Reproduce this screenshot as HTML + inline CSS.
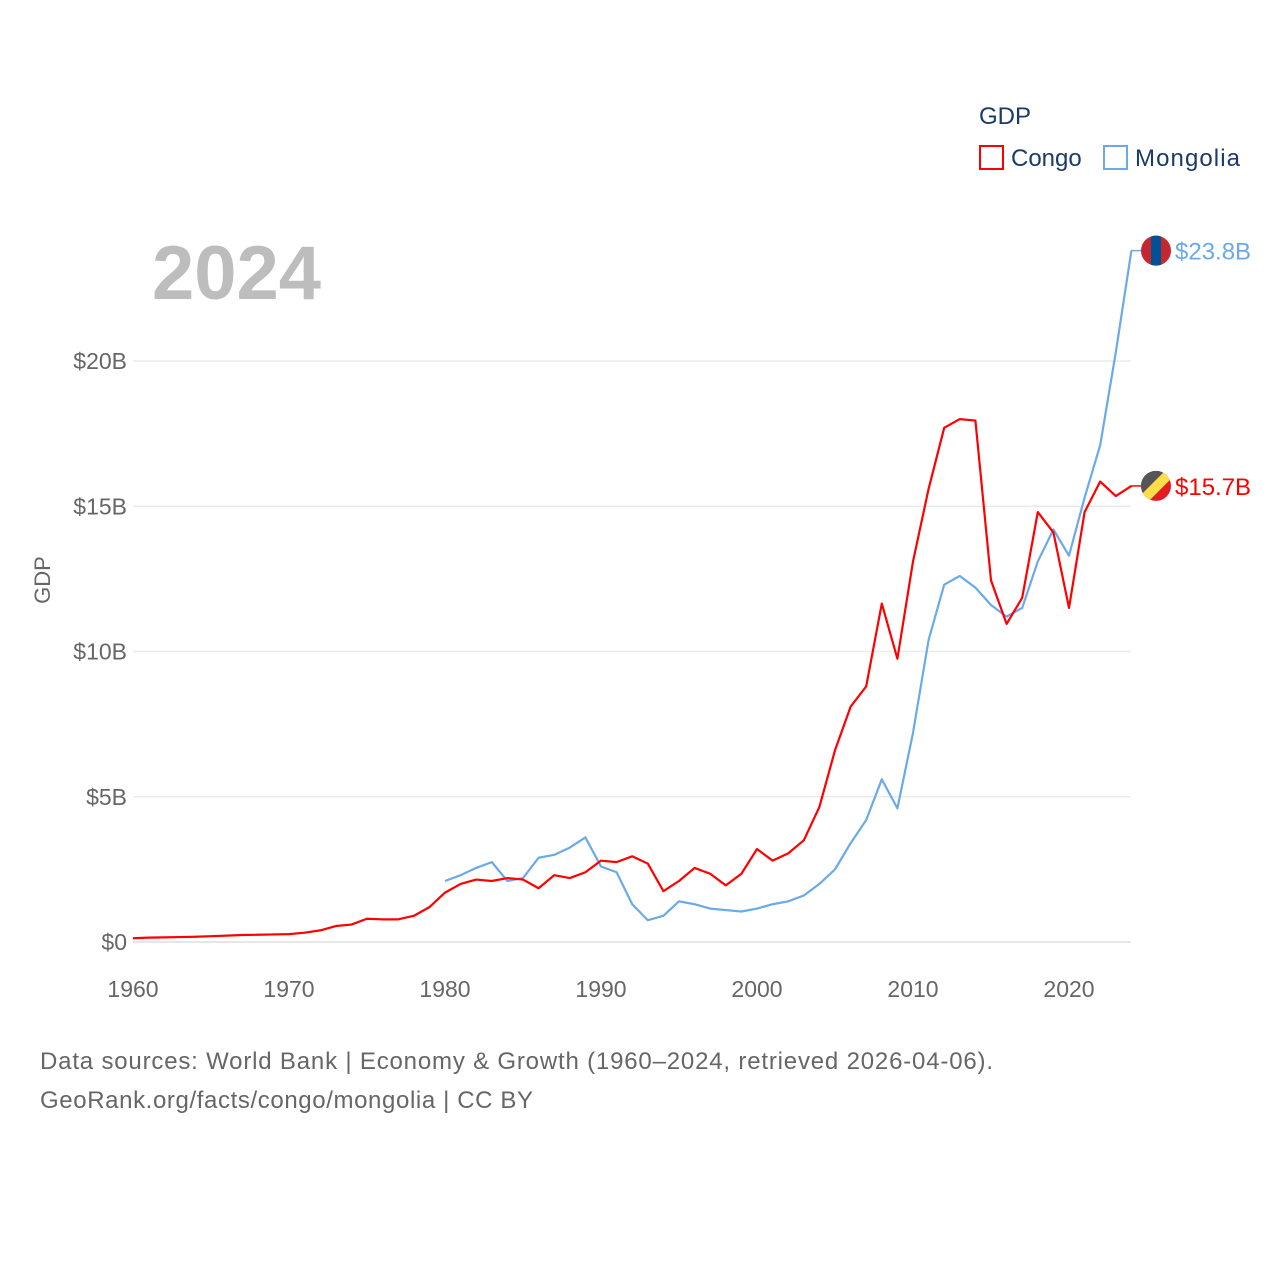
<!DOCTYPE html>
<html><head><meta charset="utf-8"><style>
html,body{margin:0;padding:0;background:#fff}
body{width:1280px;height:1280px;overflow:hidden;font-family:"Liberation Sans",sans-serif}
svg text{font-family:"Liberation Sans",sans-serif}
</style></head><body>
<svg id="chart" width="1280" height="1280">
<text x="152" y="299" font-size="76" font-weight="bold" fill="#bdbdbd">2024</text>
<text x="979" y="124" font-size="24" fill="#1a3a6b">GDP</text>
<g><rect x="980" y="146" width="23" height="23" fill="none" stroke="#f00" stroke-width="2"/><text x="1011" y="166" font-size="24" fill="#1a3a6b">Congo</text></g>
<g><rect x="1104" y="146" width="23" height="23" fill="none" stroke="#6aaaea" stroke-width="2"/><text x="1135" y="166" font-size="24" fill="#1a3a6b" textLength="105">Mongolia</text></g>
<text transform="translate(50,580) rotate(-90)" text-anchor="middle" font-size="22" fill="#666">GDP</text>
<g id="grid"></g><g id="xt"></g><g id="series"></g>
<text x="40" y="1069" font-size="24" fill="#666" textLength="953">Data sources: World Bank | Economy &amp; Growth (1960–2024, retrieved 2026-04-06).</text>
<text x="40" y="1108" font-size="24" fill="#666" textLength="493">GeoRank.org/facts/congo/mongolia | CC BY</text>
</svg>
<script>
const yTicks=[0,5,10,15,20];
const yTickLabels=["$0","$5B","$10B","$15B","$20B"];
const xTicks=[1960,1970,1980,1990,2000,2010,2020];
const congoYears=[];for(let y=1960;y<=2024;y++)congoYears.push(y);
const congo=[0.13,0.15,0.16,0.17,0.18,0.2,0.22,0.24,0.25,0.26,0.27,0.32,0.4,0.55,0.6,0.8,0.78,0.78,0.9,1.2,1.7,2.0,2.15,2.1,2.2,2.15,1.85,2.3,2.2,2.4,2.8,2.75,2.95,2.7,1.75,2.1,2.55,2.35,1.95,2.35,3.2,2.8,3.05,3.5,4.65,6.6,8.1,8.8,11.65,9.75,13.1,15.6,17.7,18.0,17.95,12.45,10.95,11.85,14.8,14.1,11.5,14.8,15.85,15.35,15.7];
const mongoliaYears=[];for(let y=1980;y<=2024;y++)mongoliaYears.push(y);
const mongolia=[2.1,2.3,2.55,2.75,2.1,2.2,2.9,3.0,3.25,3.6,2.6,2.4,1.3,0.75,0.9,1.4,1.3,1.15,1.1,1.05,1.15,1.3,1.4,1.6,2.0,2.5,3.4,4.2,5.6,4.6,7.2,10.4,12.3,12.6,12.2,11.6,11.2,11.5,13.1,14.2,13.3,15.3,17.1,20.3,23.8];
const X=y=>133+(y-1960)*15.6, Y=v=>942-v*29.05;
const NS='http://www.w3.org/2000/svg';
function mk(t,a,p){const e=document.createElementNS(NS,t);for(const k in a)e.setAttribute(k,a[k]);p.appendChild(e);return e;}
const g=document.getElementById('grid');
yTicks.forEach((v,i)=>{
 const l=mk('line',{x1:133,x2:1131,y1:Y(v),y2:Y(v),stroke:v===0?'#ddd':'#ebebeb','stroke-width':1.5},g);
 
 
 const t=mk('text',{x:127,y:Y(v)+8,'text-anchor':'end','font-size':23,fill:'#666'},g);t.textContent=yTickLabels[i];
 
 
});
const xt=document.getElementById('xt');
xTicks.forEach(v=>{const t=mk('text',{x:X(v),y:997,'text-anchor':'middle','font-size':23,fill:'#666'},xt);t.textContent=v;
 
 });
const s=document.getElementById('series');
function line(ys,vs,c,name){const p=mk('polyline',{points:vs.map((v,i)=>X(ys[i])+','+Y(v)).join(' '),fill:'none',stroke:c,'stroke-width':2.2,'stroke-linejoin':'round'},s);
 
 }
line(mongoliaYears,mongolia,'#6aaaea','mongolia-line');
line(congoYears,congo,'#f00','congo-line');
function end(v,c,lab,name,flag){const y=Y(v);
 mk('line',{x1:1131,x2:1142,y1:y,y2:y,stroke:c,'stroke-width':1.5},s);
 const gg=mk('g',{},s);gg.innerHTML=flag.replace(/CY/g,y);
 
 
 const t=mk('text',{x:1175,y:y+9,'font-size':24,fill:c},s);t.textContent=lab;
 
 }
end(mongolia[mongolia.length-1],'#6aaaea','$23.8B','mongolia',
 '<clipPath id="cm"><circle cx="1156" cy="CY" r="15"/></clipPath><g clip-path="url(#cm)"><rect x="1141" y="0" width="30" height="1280" fill="#c4272f"/><rect x="1151" y="0" width="10" height="1280" fill="#015197"/></g>');
end(congo[congo.length-1],'#f00','$15.7B','congo',
 '<clipPath id="cc"><circle cx="1156" cy="CY" r="15"/></clipPath><g clip-path="url(#cc)"><rect x="1141" y="0" width="30" height="1280" fill="#e31b23"/></g>');
(function(){const y=Y(congo[congo.length-1]);const gg=s.lastChild.previousSibling;
 gg.innerHTML+='<g clip-path="url(#cc)"><polygon points="1141,'+(y-15)+' 1165,'+(y-15)+' 1141,'+(y+9)+'" fill="#555"/><polygon points="1165,'+(y-15)+' 1172,'+(y-15)+' 1172,'+(y-8)+' 1148,'+(y+16)+' 1141,'+(y+16)+' 1141,'+(y+9)+'" fill="#fbde4a"/></g>';})();
</script>
</body></html>
